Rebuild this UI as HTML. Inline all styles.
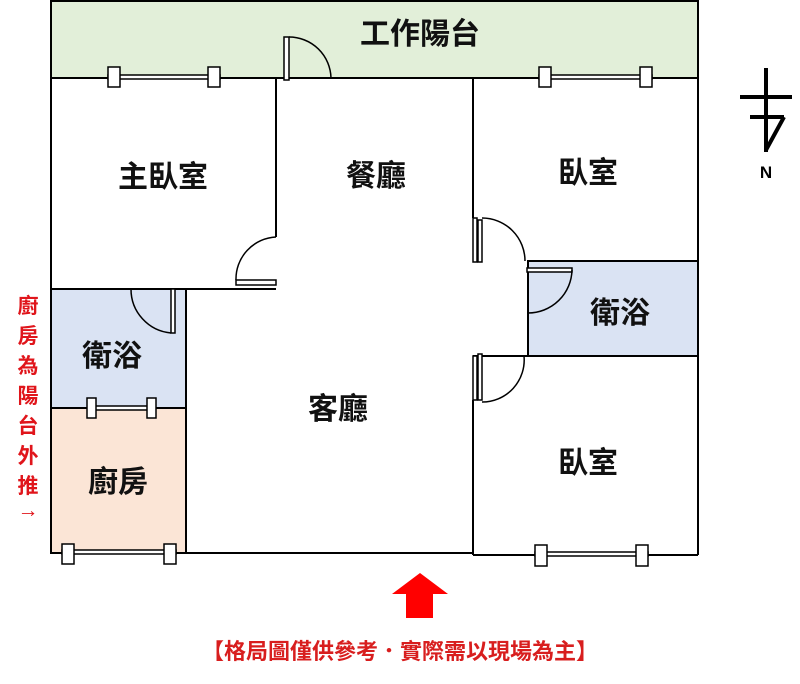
<!DOCTYPE html>
<html><head><meta charset="utf-8"><style>
body{margin:0;background:#fff}
svg text{font-family:"Liberation Sans","Noto Sans CJK TC",sans-serif}
</style></head><body>
<svg width="800" height="679" viewBox="0 0 800 679" xmlns="http://www.w3.org/2000/svg">
<g stroke="#000" stroke-width="2" fill="none">
<rect x="51" y="1" width="647" height="77" fill="#e2efd9"/>
<rect x="528" y="261" width="170" height="95" fill="#dae3f3"/>
<rect x="51" y="289" width="135" height="119" fill="#dae3f3"/>
<rect x="51" y="408" width="135" height="145" fill="#fbe5d6"/>
<line x1="51" y1="78" x2="51" y2="553"/>
<line x1="276" y1="78" x2="276" y2="237"/>
<line x1="131" y1="289" x2="51" y2="289"/>
<line x1="186" y1="289" x2="276" y2="289"/>
<line x1="186" y1="289" x2="186" y2="553"/>
<line x1="186" y1="553" x2="473" y2="553"/>
<line x1="51" y1="553" x2="186" y2="553"/>
<line x1="473" y1="78" x2="473" y2="218"/>
<line x1="698" y1="78" x2="698" y2="555"/>
<line x1="528" y1="261" x2="698" y2="261"/>
<line x1="528" y1="313" x2="528" y2="356"/>
<line x1="473" y1="356" x2="698" y2="356"/>
<line x1="473" y1="400" x2="473" y2="555"/>
<line x1="473" y1="555" x2="698" y2="555"/>
<line x1="51" y1="408" x2="186" y2="408"/>
</g>
<g stroke="#000" stroke-width="1.5" fill="#fff">
<rect x="284" y="37" width="5" height="43"/>
<path d="M289 37 A42 42 0 0 1 331 78" fill="none"/>
<rect x="236" y="280" width="40" height="5"/>
<path d="M236 280 A42 42 0 0 1 276 237" fill="none"/>
<rect x="171" y="289" width="4" height="44"/>
<path d="M131 289 A44 44 0 0 0 171 333" fill="none"/>
<rect x="473" y="218" width="4" height="44"/><rect x="478" y="220" width="4" height="42"/>
<path d="M482 218 A43 43 0 0 1 525 261" fill="none"/>
<rect x="527" y="268" width="45" height="4"/>
<path d="M572 270 A44 44 0 0 1 528 313" fill="none"/>
<rect x="473" y="356" width="4" height="44"/><rect x="478" y="354" width="4" height="46"/>
<path d="M524 356 A42 42 0 0 1 482 402" fill="none"/>
<rect x="108" y="75" width="112" height="4"/><rect x="108" y="67" width="12" height="20"/><rect x="208" y="67" width="12" height="20"/>
<rect x="539" y="75" width="113" height="4"/><rect x="539" y="67" width="12" height="20"/><rect x="640" y="67" width="12" height="20"/>
<rect x="88" y="406" width="67" height="4"/><rect x="87" y="398" width="9" height="20"/><rect x="147" y="398" width="9" height="20"/>
<rect x="62" y="550" width="114" height="4"/><rect x="62" y="544" width="12" height="20"/><rect x="164" y="544" width="12" height="20"/>
<rect x="535" y="552" width="113" height="4"/><rect x="535" y="545" width="12" height="21"/><rect x="636" y="545" width="12" height="21"/>
</g>
<g stroke="#000" stroke-width="4" fill="none">
<line x1="766" y1="68" x2="766" y2="152"/>
<line x1="740" y1="97" x2="792" y2="97"/>
<line x1="750" y1="117" x2="784" y2="117"/>
<line x1="784" y1="117" x2="766" y2="150"/>
</g>
<text x="766" y="178" font-size="17" font-weight="bold" text-anchor="middle">N</text>
<g font-size="30" font-weight="bold" text-anchor="middle" fill="#111">
<text x="420" y="44">工作陽台</text>
<text x="163" y="187">主臥室</text>
<text x="376" y="186">餐廳</text>
<text x="588" y="183">臥室</text>
<text x="620" y="323">衛浴</text>
<text x="112" y="366">衛浴</text>
<text x="338" y="419">客廳</text>
<text x="588" y="473">臥室</text>
<text x="118" y="492">廚房</text>
</g>
<g font-size="21" font-weight="bold" fill="#e0151b" text-anchor="middle">
<text x="28" y="313">廚</text><text x="28" y="343">房</text><text x="28" y="373">為</text><text x="28" y="403">陽</text><text x="28" y="433">台</text><text x="28" y="463">外</text><text x="28" y="493">推</text><text x="28" y="517">→</text>
</g>
<polygon points="420,573 448,594 433,594 433,618 406,618 406,594 392,594" fill="#f00"/>
<text x="400" y="659" font-size="22" font-weight="bold" fill="#d81e1e" text-anchor="middle">【格局圖僅供參考．實際需以現場為主】</text>
</svg>
</body></html>
